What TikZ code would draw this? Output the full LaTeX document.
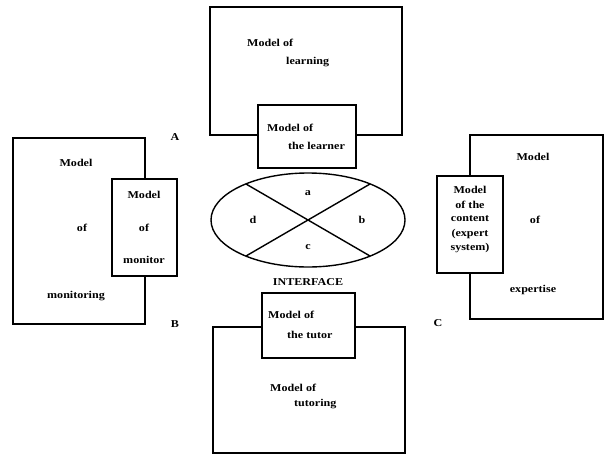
\documentclass[tikz,border=0pt]{standalone}
\usepackage{fontspec}
\setmainfont{Liberation Serif}[FakeStretch=1.15]
\usetikzlibrary{shapes.geometric}
\begin{document}
\begin{tikzpicture}[x=1pt,y=-1pt,
  box/.style={draw,line width=1.4pt,fill=white,inner sep=0pt,outer sep=0pt},
  lbl/.style={inner sep=0pt,font=\fontsize{10.5}{12}\selectfont\bfseries},
  wlbl/.style={lbl,anchor=west}]
\useasboundingbox (0,0) rectangle (604,455);
% big boxes
\node[box,minimum width=192pt,minimum height=128pt] (learning) at (306,71) {};
\node[box,minimum width=132pt,minimum height=186pt] (monitoring) at (79,231) {};
\node[box,minimum width=133pt,minimum height=184pt] (expertise) at (536.5,227) {};
\node[box,minimum width=192pt,minimum height=126pt] (tutoring) at (309,390) {};
% inner boxes
\node[box,minimum width=98pt,minimum height=63pt] (learner) at (307,136.5) {};
\node[box,minimum width=65pt,minimum height=97pt] (monitor) at (144.5,227.5) {};
\node[box,minimum width=66pt,minimum height=97pt] (content) at (470,224.5) {};
\node[box,minimum width=93pt,minimum height=65pt] (tutor) at (308.5,325.5) {};
% interface ellipse
\node[draw,line width=1.4pt,ellipse,minimum width=194pt,minimum height=94pt,inner sep=0pt] (iface) at (308,220) {};
\coordinate (p1) at (246,184);
\coordinate (p2) at (370,256);
\coordinate (p3) at (370,184);
\coordinate (p4) at (246,256);
\draw[line width=1.4pt] (p1) -- (p2);
\draw[line width=1.4pt] (p3) -- (p4);
\node[lbl] (la) at (308,193) {a};
\node[lbl] (lb) at (362,220) {b};
\node[lbl] (lc) at (308,247) {c};
\node[lbl] (ld) at (253,220) {d};
\node[lbl] (intf) at (308,282) {INTERFACE};
% corner letters
\node[lbl] (A) at (175,137) {A};
\node[lbl] (B) at (175,324) {B};
\node[lbl] (C) at (438,323) {C};
% top texts
\node[wlbl] (t1) at (247,43) {Model of};
\node[wlbl] (t2) at (286,62) {learning};
\node[wlbl] (t3) at (267,128) {Model of};
\node[wlbl] (t4) at (288,146) {the learner};
% left texts
\node[lbl] (l1) at (76,163) {Model};
\node[lbl] (l2) at (82,228) {of};
\node[lbl] (l3) at (76,296) {monitoring};
\node[lbl] (l4) at (144,195) {Model};
\node[lbl] (l5) at (144,228) {of};
\node[lbl] (l6) at (144,260) {monitor};
% right texts
\node[lbl] (r1) at (533,157) {Model};
\node[lbl] (r2) at (535,220) {of};
\node[lbl] (r3) at (533,290) {expertise};
\node[lbl] (r4) at (470,190) {Model};
\node[lbl] (r5) at (470,205) {of the};
\node[lbl] (r6) at (470,219) {content};
\node[lbl] (r7) at (470,234) {(expert};
\node[lbl] (r8) at (470,248) {system)};
% bottom texts
\node[wlbl] (b1) at (268,315) {Model of};
\node[wlbl] (b2) at (287,335) {the tutor};
\node[wlbl] (b3) at (270,388) {Model of};
\node[wlbl] (b4) at (294,404) {tutoring};
\end{tikzpicture}
\end{document}
